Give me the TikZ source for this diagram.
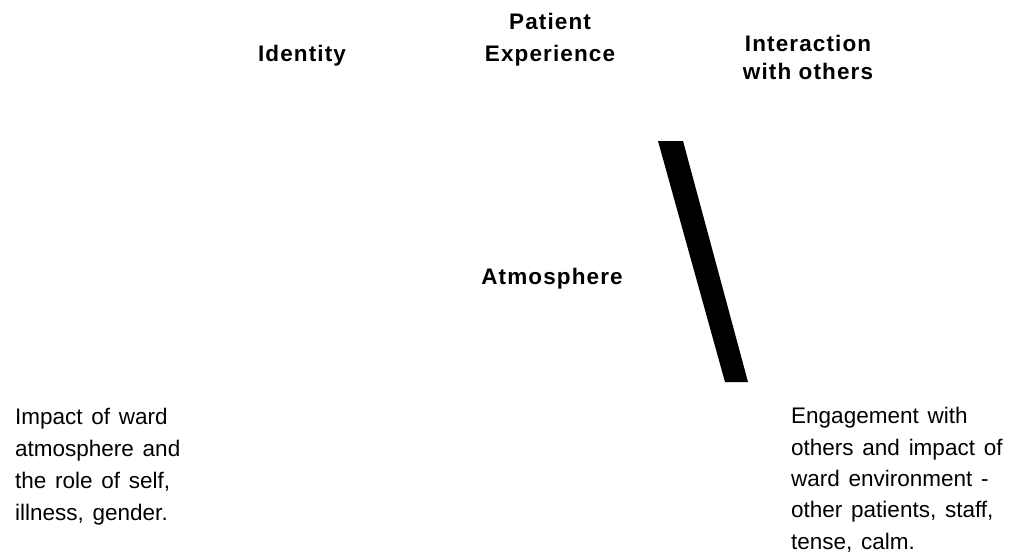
\documentclass[tikz,border=0pt]{standalone}
\usepackage{fontspec}
\setmainfont[WordSpace=1.4]{Liberation Sans}
\newfontfamily\headfont[LetterSpace=5]{Liberation Sans}
\tikzset{
  head/.style={font=\headfont\bfseries\fontsize{22.5}{32}\selectfont, align=center, inner sep=0pt, anchor=base},
  para/.style={font=\fontsize{22.5}{32}\selectfont, align=left, inner sep=0pt, anchor=base west},
}
\begin{document}
\begin{tikzpicture}[x=1pt,y=-1pt]
\useasboundingbox (0,0) rectangle (1016,555);
\node[head] (identity) at (302,61) {Identity};
\node[head] (patient) at (550,61) {Patient\\Experience};
\node[head, font=\headfont\bfseries\fontsize{22.5}{28}\selectfont] (interaction) at (808,79) {Interaction\\with others};
\node[head] (atmosphere) at (552,284) {Atmosphere};
\fill (658,141) -- (683,141) -- (748,382) -- (725,382) -- cycle;
\node[para] (left) at (15,520) {Impact of ward\\atmosphere and\\the role of self,\\illness, gender.};
\node[para, font=\fontsize{22.5}{31.3}\selectfont] (right) at (791,549) {Engagement with\\others and impact of\\ward environment -\\other patients, staff,\\tense, calm.};
\end{tikzpicture}
\end{document}
